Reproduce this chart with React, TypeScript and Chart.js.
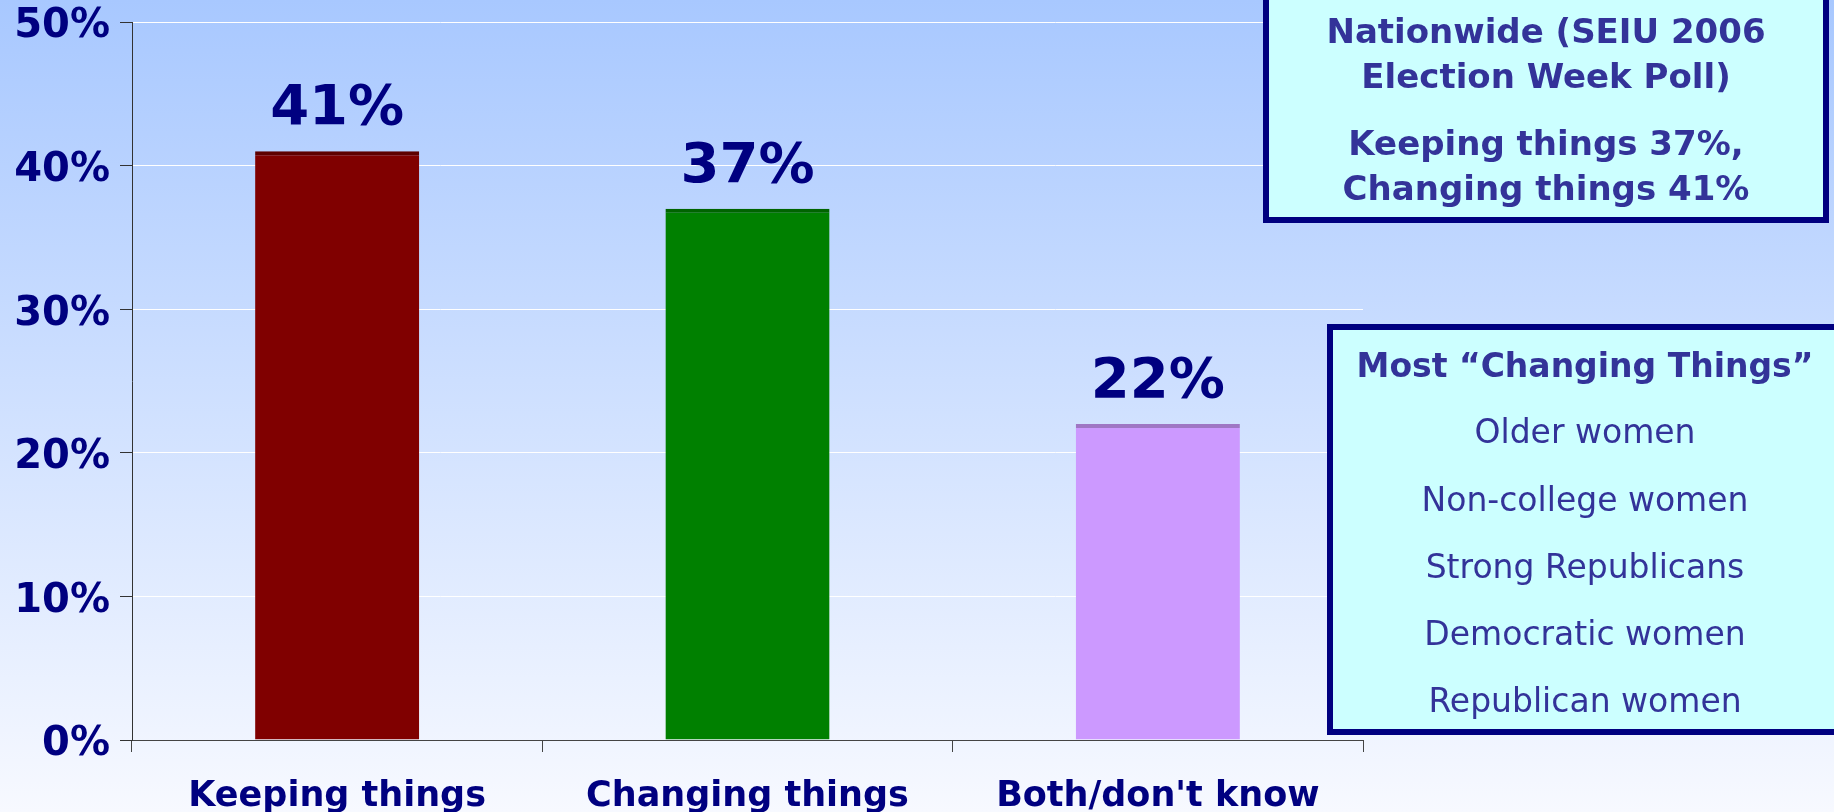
import React, { useEffect, useRef } from "react";
import { Chart, registerables } from "chart.js";

Chart.register(...registerables);

const categories = ["Keeping things", "Changing things", "Both/don't know"];
const values = [41, 37, 22];
const barColors = ["#800000", "#008000", "#CC99FF"];
const barTopColors = ["#5E0000", "#006400", "#9F77C4"];
const yMin = 0;
const yMax = 50;
const yStep = 10;

const box1Lines = [
  "Nationwide (SEIU 2006",
  "Election Week Poll)",
  "Keeping things 37%,",
  "Changing things 41%",
];
const box2Title = "Most \u201CChanging Things\u201D";
const box2Items = [
  "Older women",
  "Non-college women",
  "Strong Republicans",
  "Democratic women",
  "Republican women",
];

const FONT = "'DejaVu Sans', Verdana, sans-serif";
const NAVY = "#000080";
const BOX_TEXT = "#333399";

const W = 1834;
const H = 812;
const AREA_LEFT = 132;
const AREA_RIGHT = 1363;
const AREA_TOP = 22;
const AREA_BOTTOM = 740;

const valueLabels = {
  id: "valueLabels",
  afterDatasetsDraw(chart: any) {
    const ctx = chart.ctx;
    const meta = chart.getDatasetMeta(0);
    ctx.save();
    ctx.font = `bold 56px ${FONT}`;
    ctx.fillStyle = NAVY;
    ctx.textAlign = "center";
    ctx.textBaseline = "alphabetic";
    meta.data.forEach((bar: any, i: number) => {
      ctx.fillText(values[i] + "%", bar.x, bar.y - 27);
    });
    ctx.restore();
  },
};

export default function App() {
  const ref = useRef<HTMLCanvasElement | null>(null);

  useEffect(() => {
    if (!ref.current) return;
    const chart = new Chart(ref.current, {
      type: "bar",
      data: {
        labels: categories,
        datasets: [
          {
            data: values,
            backgroundColor: barColors,
            borderColor: barTopColors,
            borderWidth: { top: 4, left: 0, right: 0, bottom: 0 },
            borderSkipped: "bottom",
            barPercentage: 0.8,
            categoryPercentage: 0.5,
          } as any,
        ],
      },
      options: {
        responsive: false,
        animation: false,
        maintainAspectRatio: false,
        layout: {
          padding: { left: 0, right: W - AREA_RIGHT, top: AREA_TOP, bottom: 0 },
        },
        plugins: {
          legend: { display: false },
          tooltip: { enabled: false },
          title: { display: false },
        },
        scales: {
          x: {
            grid: {
              display: true,
              drawOnChartArea: false,
              drawTicks: true,
              tickLength: 12,
              tickColor: "#444",
              offset: true,
            },
            border: { display: true, color: "#444", width: 1 },
            ticks: {
              color: NAVY,
              font: { family: FONT, size: 35, weight: "bold", lineHeight: 1.2 },
              padding: 24,
              maxRotation: 0,
              autoSkip: false,
            },
            afterFit: (s: any) => {
              s.height = H - AREA_BOTTOM;
            },
          },
          y: {
            min: yMin,
            max: yMax,
            grid: {
              color: "#FFFFFF",
              lineWidth: 1,
              drawTicks: true,
              tickLength: 12,
              tickColor: "#333",
            },
            border: { display: true, color: "#333", width: 1 },
            ticks: {
              stepSize: yStep,
              color: NAVY,
              padding: 10,
              labelOffset: 5,
              font: { family: FONT, size: 40, weight: "bold", lineHeight: 0.5 },
              callback: (v: any) => v + "%",
            },
            afterFit: (s: any) => {
              s.width = AREA_LEFT;
            },
          },
        },
      } as any,
      plugins: [valueLabels],
    });
    return () => chart.destroy();
  }, []);

  const lineDiv = (text: string, baseline: number, size: number, bold: boolean, center: number, key: string) => (
    <div
      key={key}
      style={{
        position: "absolute",
        left: center - 320,
        width: 640,
        top: baseline - 0.928 * size,
        fontFamily: FONT,
        fontSize: size,
        fontWeight: bold ? "bold" : "normal",
        lineHeight: "normal",
        color: BOX_TEXT,
        textAlign: "center",
        whiteSpace: "nowrap",
      }}
    >
      {text}
    </div>
  );

  const box1Baselines = [43, 88, 155, 200];
  const box2Baselines = [443, 511, 578, 645, 712];

  return (
    <div
      style={{
        position: "fixed",
        left: 0,
        top: 0,
        width: W,
        height: H,
        overflow: "hidden",
        background: "linear-gradient(to bottom, #A8C8FF 0%, #F7F9FF 100%)",
      }}
    >
      <canvas ref={ref} width={W} height={H} style={{ position: "absolute", left: 0, top: 0, width: W, height: H }} />
      <div
        style={{
          position: "absolute",
          left: 1263,
          top: -20,
          width: 566,
          height: 243,
          boxSizing: "border-box",
          border: "6px solid #000080",
          background: "#CCFFFF",
        }}
      />
      <div
        style={{
          position: "absolute",
          left: 1327,
          top: 324,
          width: 520,
          height: 411,
          boxSizing: "border-box",
          border: "6px solid #000080",
          background: "#CCFFFF",
        }}
      />
      {box1Lines.map((t, i) => lineDiv(t, box1Baselines[i], 34, true, 1546, "b1-" + i))}
      {lineDiv(box2Title, 377, 33, true, 1585, "b2-title")}
      {box2Items.map((t, i) => lineDiv(t, box2Baselines[i], 33, false, 1585, "b2-" + i))}
    </div>
  );
}
